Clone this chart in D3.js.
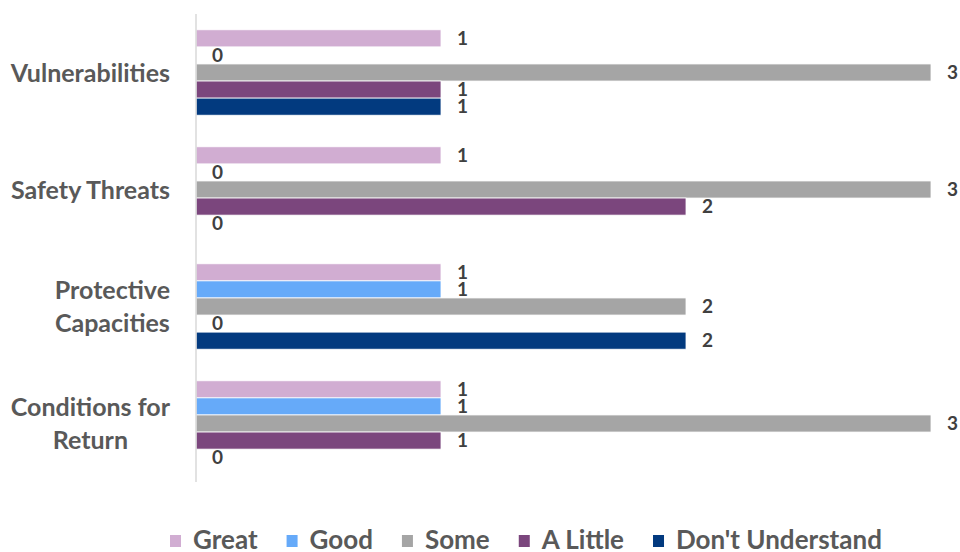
<!DOCTYPE html>
<html>
<head>
<meta charset="utf-8">
<script src="https://cdn.jsdelivr.net/npm/d3@7"></script>
<style>
  html, body { margin: 0; padding: 0; background: #fff; }
  svg { display: block; }
  text { font-family: Lato, "Open Sans", sans-serif; font-weight: 700; }
</style>
</head>
<body>
<svg id="chart" width="960" height="552"></svg>
<script>
// Categories (top to bottom) and the rating series drawn inside each group
const categories = ["Vulnerabilities", "Safety Threats", "Protective Capacities", "Conditions for Return"];
const categoryLines = [["Vulnerabilities"], ["Safety Threats"], ["Protective", "Capacities"], ["Conditions for", "Return"]];
const seriesNames = ["Great", "Good", "Some", "A Little", "Don't Understand"];
const seriesColors = ["#D1ADD2", "#66AAF9", "#A5A5A5", "#7B467D", "#023A7F"];

// Counts per series, in category order
const great          = [1, 1, 1, 1];
const good           = [0, 0, 1, 1];
const some           = [3, 3, 2, 3];
const aLittle        = [1, 2, 0, 1];
const dontUnderstand = [1, 0, 2, 0];
const seriesValues = [great, good, some, aLittle, dontUnderstand];

const svg = d3.select("#chart");
const plot = { left: 196, right: 931, top: 14, bottom: 482 };

const x = d3.scaleLinear().domain([0, 3]).range([plot.left, plot.right]);
const y0 = d3.scaleBand().domain(categories).range([plot.top, plot.bottom])
  .paddingInner(0.27).paddingOuter(0.135);
const y1 = d3.scaleBand().domain(seriesNames).range([0, y0.bandwidth()]);
const color = d3.scaleOrdinal().domain(seriesNames).range(seriesColors);

const rows = [];
categories.forEach((c, ci) => {
  seriesNames.forEach((s, si) => {
    rows.push({ category: c, series: s, value: seriesValues[si][ci] });
  });
});

// Bars
const groups = svg.append("g").selectAll("g")
  .data(categories).join("g")
  .attr("transform", c => `translate(0,${y0(c)})`);

groups.selectAll("rect")
  .data(c => rows.filter(r => r.category === c))
  .join("rect")
  .attr("x", x(0))
  .attr("y", d => y1(d.series))
  .attr("width", d => x(d.value) - x(0))
  .attr("height", y1.bandwidth())
  .attr("fill", d => color(d.series))
  .attr("stroke", "#ffffff")
  .attr("stroke-width", 0.8);

// Value labels
groups.selectAll("text.val")
  .data(c => rows.filter(r => r.category === c))
  .join("text")
  .attr("class", "val")
  .attr("x", d => x(d.value) + 16)
  .attr("y", d => y1(d.series) + y1.bandwidth() / 2)
  .attr("dy", "0.36em")
  .attr("font-size", 19)
  .attr("fill", "#404040")
  .text(d => d.value);

// Category axis line
const yAxis = d3.axisLeft(y0).tickSize(0).tickFormat("");
const axisG = svg.append("g").attr("transform", `translate(${plot.left},0)`).call(yAxis);
axisG.select(".domain").attr("stroke", "#D9D9D9").attr("stroke-width", 1.5)
  .attr("d", `M0,${plot.top}V${plot.bottom}`);

// Category labels: block right-aligned, wrapped lines centred within the block
const labelRight = plot.left - 26;
const lineGap = 33;
categories.forEach((c, ci) => {
  const lines = categoryLines[ci];
  const g = svg.append("g");
  const texts = lines.map((ln, li) => g.append("text")
    .attr("y", y0(c) + y0.bandwidth() / 2 + (li - (lines.length - 1) / 2) * lineGap)
    .attr("dy", "0.36em")
    .attr("font-size", 25)
    .attr("fill", "#595959")
    .attr("text-anchor", "middle")
    .text(ln));
  const w = d3.max(texts, t => t.node().getComputedTextLength());
  texts.forEach(t => t.attr("x", labelRight - w / 2));
});

// Legend
const legend = svg.append("g").attr("transform", "translate(0,540)");
let lx = 170;
seriesNames.forEach(s => {
  legend.append("rect")
    .attr("x", lx).attr("y", -5).attr("width", 11).attr("height", 12)
    .attr("fill", color(s));
  const t = legend.append("text")
    .attr("x", lx + 23).attr("y", 0).attr("dy", "0.34em")
    .attr("font-size", 26).attr("fill", "#595959")
    .text(s);
  lx += 23 + t.node().getComputedTextLength() + 29;
});
</script>
</body>
</html>
